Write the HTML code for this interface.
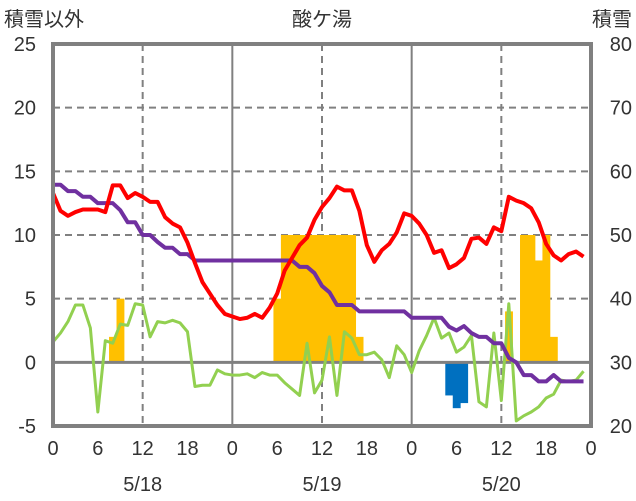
<!DOCTYPE html>
<html><head><meta charset="utf-8"><style>
body{margin:0;background:#fff;}
svg{display:block;font-family:"Liberation Sans","Noto Sans CJK JP",sans-serif;}
</style></head><body>
<svg id="chart" width="636" height="501" viewBox="0 0 636 501" xmlns="http://www.w3.org/2000/svg">
<text x="4" y="26" font-size="20" fill="#333">積雪以外</text>
<text x="322" y="26" font-size="20" fill="#333" text-anchor="middle">酸ケ湯</text>
<text x="632" y="26" font-size="20" fill="#333" text-anchor="end">積雪</text>
<g id="grid"></g>
<g id="bars"></g>
<g id="lines"></g>
<g id="axes"></g>
</svg>
<script>
const hours=[];for(let i=0;i<72;i++)hours.push(i);
const leftTicks=[-5,0,5,10,15,20,25];
const rightTicks=[20,30,40,50,60,70,80];
const xTickLabels=["0","6","12","18","0","6","12","18","0","6","12","18","0"];
const dateLabels=["5/18","5/19","5/20"];
const precipHours=[8,9,30,31,32,33,34,35,36,37,38,39,40,41,61,63,64,65,66,67];
const precipVals=[2,5,5,10,10,10,10,10,10,10,10,10,10,2,4,10,10,8,10,2];
const snowfallHours=[53,54,55];
const snowfallVals=[-2.6,-3.6,-3.2];
const temperature=[13.3,11.9,11.5,11.8,12.0,12.0,12.0,11.8,13.9,13.9,12.9,13.3,13.0,12.6,12.6,11.4,10.9,10.6,9.4,7.8,6.3,5.4,4.5,3.8,
3.6,3.4,3.5,3.8,3.5,4.3,5.4,7.2,8.2,9.2,9.8,11.2,12.2,12.9,13.8,13.5,13.5,11.9,9.2,7.9,8.8,9.3,10.2,11.7,
11.5,10.9,10.0,8.6,8.8,7.4,7.7,8.2,9.7,9.8,9.3,10.6,10.3,13.0,12.7,12.5,12.1,11.0,9.3,8.4,8.0,8.5,8.7,8.3];
const snowDepth=[57.9,57.9,56.9,56.9,56,56,55,55,55,53.9,52,52,50,50,48.9,48,48,47,47,46,46,46,46,46,
46,46,46,46,46,46,46,46,46,45,45,44,42,41,39,39,39,38,38,38,38,38,38,38,
37,37,37,37,37,35.6,35,35.7,34.6,34,34,33,33,30.7,30,28,28,27,27,28,27,27,27,27];
const wind=[1.6,2.3,3.2,4.5,4.5,2.7,-3.9,1.7,1.5,3.0,2.9,4.6,4.5,2.0,3.2,3.1,3.3,3.1,2.4,-1.9,-1.8,-1.8,-0.6,-0.9,
-1.0,-1.0,-0.9,-1.2,-0.8,-1.0,-1.0,-1.6,-2.1,-2.6,1.5,-2.4,-1.4,2.0,-2.6,2.4,1.9,0.6,0.6,0.8,0.2,-1.2,1.3,0.6,
-0.8,0.9,2.1,3.5,1.9,2.3,0.8,1.2,2.1,-3.1,-3.5,2.3,-3.0,4.6,-4.6,-4.2,-3.9,-3.5,-2.8,-2.5,-1.4,-1.5,-1.4,-0.7];

const X0=53,X1=591,Y0=426,Y1=44;
const xs=h=>X0+(X1-X0)*h/72;
const yL=v=>Y0-(Y0-Y1)*(v+5)/30;
const yR=v=>Y0-(Y0-Y1)*(v-20)/60;
const NS="http://www.w3.org/2000/svg";
function mk(parent,tag,attrs){const e=document.createElementNS(NS,tag);for(const k in attrs)e.setAttribute(k,attrs[k]);document.getElementById(parent).appendChild(e);return e;}

// grid
leftTicks.forEach(v=>{
  if(v===0||v===-5||v===25)return;
  const g=mk('grid','line',{x1:X0,x2:X1,y1:yL(v),y2:yL(v),stroke:'#808080','stroke-width':2,'stroke-dasharray':'7,5'});
  
  
});
for(let h=6;h<72;h+=6){
  if(h%12!==0)continue;
  const solid=h%24===0;
  const g=mk('grid','line',{x1:xs(h),x2:xs(h),y1:Y1,y2:Y0,stroke:'#808080','stroke-width':2,'stroke-dasharray':solid?'none':'7,5'});
  
  
}
// bars
const bw=(X1-X0)/72;
precipHours.forEach((h,i)=>{
  const v=precipVals[i];
  const r=mk('bars','rect',{x:xs(h)-bw/2,y:yL(v),width:bw+0.4,height:yL(0)-yL(v),fill:'#FFC000'});
  
  
});
snowfallHours.forEach((h,i)=>{
  const v=snowfallVals[i];
  const r=mk('bars','rect',{x:xs(h)-bw/2,y:yL(0),width:bw+0.4,height:yL(v)-yL(0),fill:'#0070C0'});
  
  
});
// zero line
const z=mk('bars','line',{x1:X0,x2:X1,y1:yL(0),y2:yL(0),stroke:'#808080','stroke-width':3});


// lines
function poly(vals,fy,color,w,name){
  const p=mk('lines','polyline',{points:vals.map((v,i)=>xs(hours[i])+','+fy(v)).join(' '),fill:'none',stroke:color,'stroke-width':w,'stroke-linejoin':'round'});
  
  
}
poly(wind,yL,'#92D050',3,'wind-line');
poly(snowDepth,yR,'#7030A0',4,'snow-depth-line');
poly(temperature,yL,'#FF0000',4,'temperature-line');
// frame
const f=mk('axes','rect',{x:X0,y:Y1,width:X1-X0,height:Y0-Y1,fill:'none',stroke:'#808080','stroke-width':4});


leftTicks.forEach(v=>{
  const t=mk('axes','text',{x:36,y:yL(v)+7,'font-size':20,fill:'#333','text-anchor':'end'});
  t.textContent=v;
  
  
});
rightTicks.forEach(v=>{
  const t=mk('axes','text',{x:632,y:yR(v)+7,'font-size':20,fill:'#333','text-anchor':'end'});
  t.textContent=v;
  
  
});
xTickLabels.forEach((s,i)=>{
  const t=mk('axes','text',{x:xs(i*6),y:455,'font-size':20,fill:'#333','text-anchor':'middle'});
  t.textContent=s;
  
  
});
dateLabels.forEach((s,i)=>{
  const t=mk('axes','text',{x:xs(12+24*i),y:491,'font-size':20,fill:'#333','text-anchor':'middle'});
  t.textContent=s;
  
  
});
</script>
</body></html>
